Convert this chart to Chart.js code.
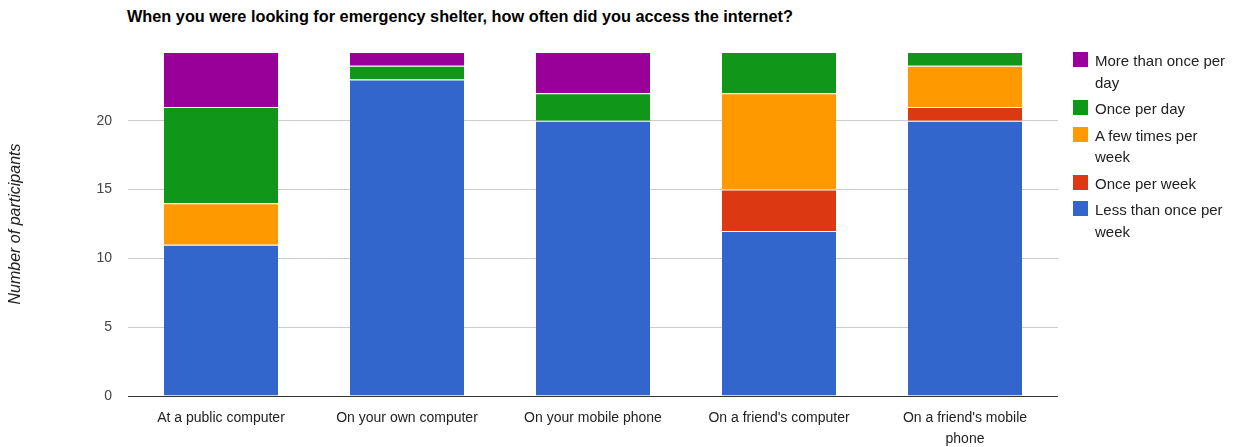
<!DOCTYPE html>
<html>
<head>
<meta charset="utf-8">
<script src="https://cdn.jsdelivr.net/npm/chart.js@4/dist/chart.umd.min.js"></script>
<style>
    html, body { margin: 0; padding: 0; background: #fff; }
    body { width: 1234px; height: 447px; position: relative; overflow: hidden; font-family: "Liberation Sans", Arial, sans-serif; }
    #chart { position: absolute; left: 0; top: 0; }
    #title { position: absolute; left: 127px; top: 7px; font-size: 16.3px; font-weight: bold; color: #000; white-space: nowrap; }
    #legend { position: absolute; left: 1073px; top: 50px; font-size: 15px; color: #222; }
    .item { display: flex; align-items: flex-start; margin-bottom: 5px; }
    .box { width: 15px; height: 15px; margin-top: 2px; margin-right: 7px; flex: none; }
    .txt { width: 134px; line-height: 21.5px; }
</style>
</head>
<body>
<div id="title">When you were looking for emergency shelter, how often did you access the internet?</div>
<canvas id="chart" width="1234" height="447"></canvas>
<div id="legend"></div>
<script>
// ─── Données ────────────────────────────────────────────────────────
const categories = [
    "At a public computer",
    "On your own computer",
    "On your mobile phone",
    "On a friend's computer",
    ["On a friend's mobile", "phone"]
];
const lessThanOncePerWeek = [11, 23, 20, 12, 20];
const oncePerWeek = [0, 0, 0, 3, 1];
const fewTimesPerWeek = [3, 0, 0, 7, 3];
const oncePerDay = [7, 1, 2, 3, 1];
const moreThanOncePerDay = [4, 1, 3, 0, 0];
const yTicks = [0, 5, 10, 15, 20];

// séries empilées, de bas en haut
const series = [
    { label: "Less than once per week", data: lessThanOncePerWeek, color: "#3366cc" },
    { label: "Once per week", data: oncePerWeek, color: "#dc3912" },
    { label: "A few times per week", data: fewTimesPerWeek, color: "#ff9900" },
    { label: "Once per day", data: oncePerDay, color: "#109618" },
    { label: "More than once per day", data: moreThanOncePerDay, color: "#990099" },
];

const FONT = "'Liberation Sans', Arial, sans-serif";

new Chart(document.getElementById("chart"), {
    type: "bar",
    data: {
        labels: categories,
        datasets: series.map(s => ({
            label: s.label,
            data: s.data,
            backgroundColor: s.color,
            borderColor: "#ffffff",
            borderWidth: { top: 1, bottom: 0, left: 0, right: 0 },
            borderSkipped: false,
            categoryPercentage: 1,
            barPercentage: 0.613,
        }))
    },
    options: {
        responsive: false,
        animation: false,
        layout: { padding: { left: 0, top: 52, right: 176, bottom: 0 } },
        plugins: {
            legend: { display: false },
            tooltip: { enabled: false },
        },
        scales: {
            x: {
                stacked: true,
                grid: { display: false },
                border: { display: false },
                ticks: { color: "#222", font: { family: FONT, size: 14, lineHeight: 1.55 }, padding: 3, maxRotation: 0, autoSkip: false },
                afterFit: (s) => { s.height = 51; },
            },
            y: {
                stacked: true,
                min: 0,
                max: 25,
                afterBuildTicks: (s) => { s.ticks = yTicks.map(v => ({ value: v })); },
                grid: {
                    drawTicks: false,
                    color: (c) => (c.tick && c.tick.value === 0 ? "#333333" : "#cccccc"),
                    lineWidth: 1,
                },
                border: { display: false },
                ticks: { color: "#444", font: { family: FONT, size: 14 }, padding: 16 },
                title: {
                    display: true,
                    text: "Number of participants",
                    color: "#222",
                    font: { family: FONT, size: 16, style: "italic" },
                    padding: { top: 6, bottom: 0 },
                },
                afterFit: (s) => { s.width = 128; },
            }
        }
    }
});

// Légende HTML (ordre inverse de l'empilement)
const legendEl = document.getElementById("legend");
series.slice().reverse().forEach(s => {
    const item = document.createElement("div");
    item.className = "item";
    item.innerHTML = `<div class="box" style="background:${s.color}"></div><div class="txt">${s.label}</div>`;
    legendEl.appendChild(item);
});
</script>
</body>
</html>
